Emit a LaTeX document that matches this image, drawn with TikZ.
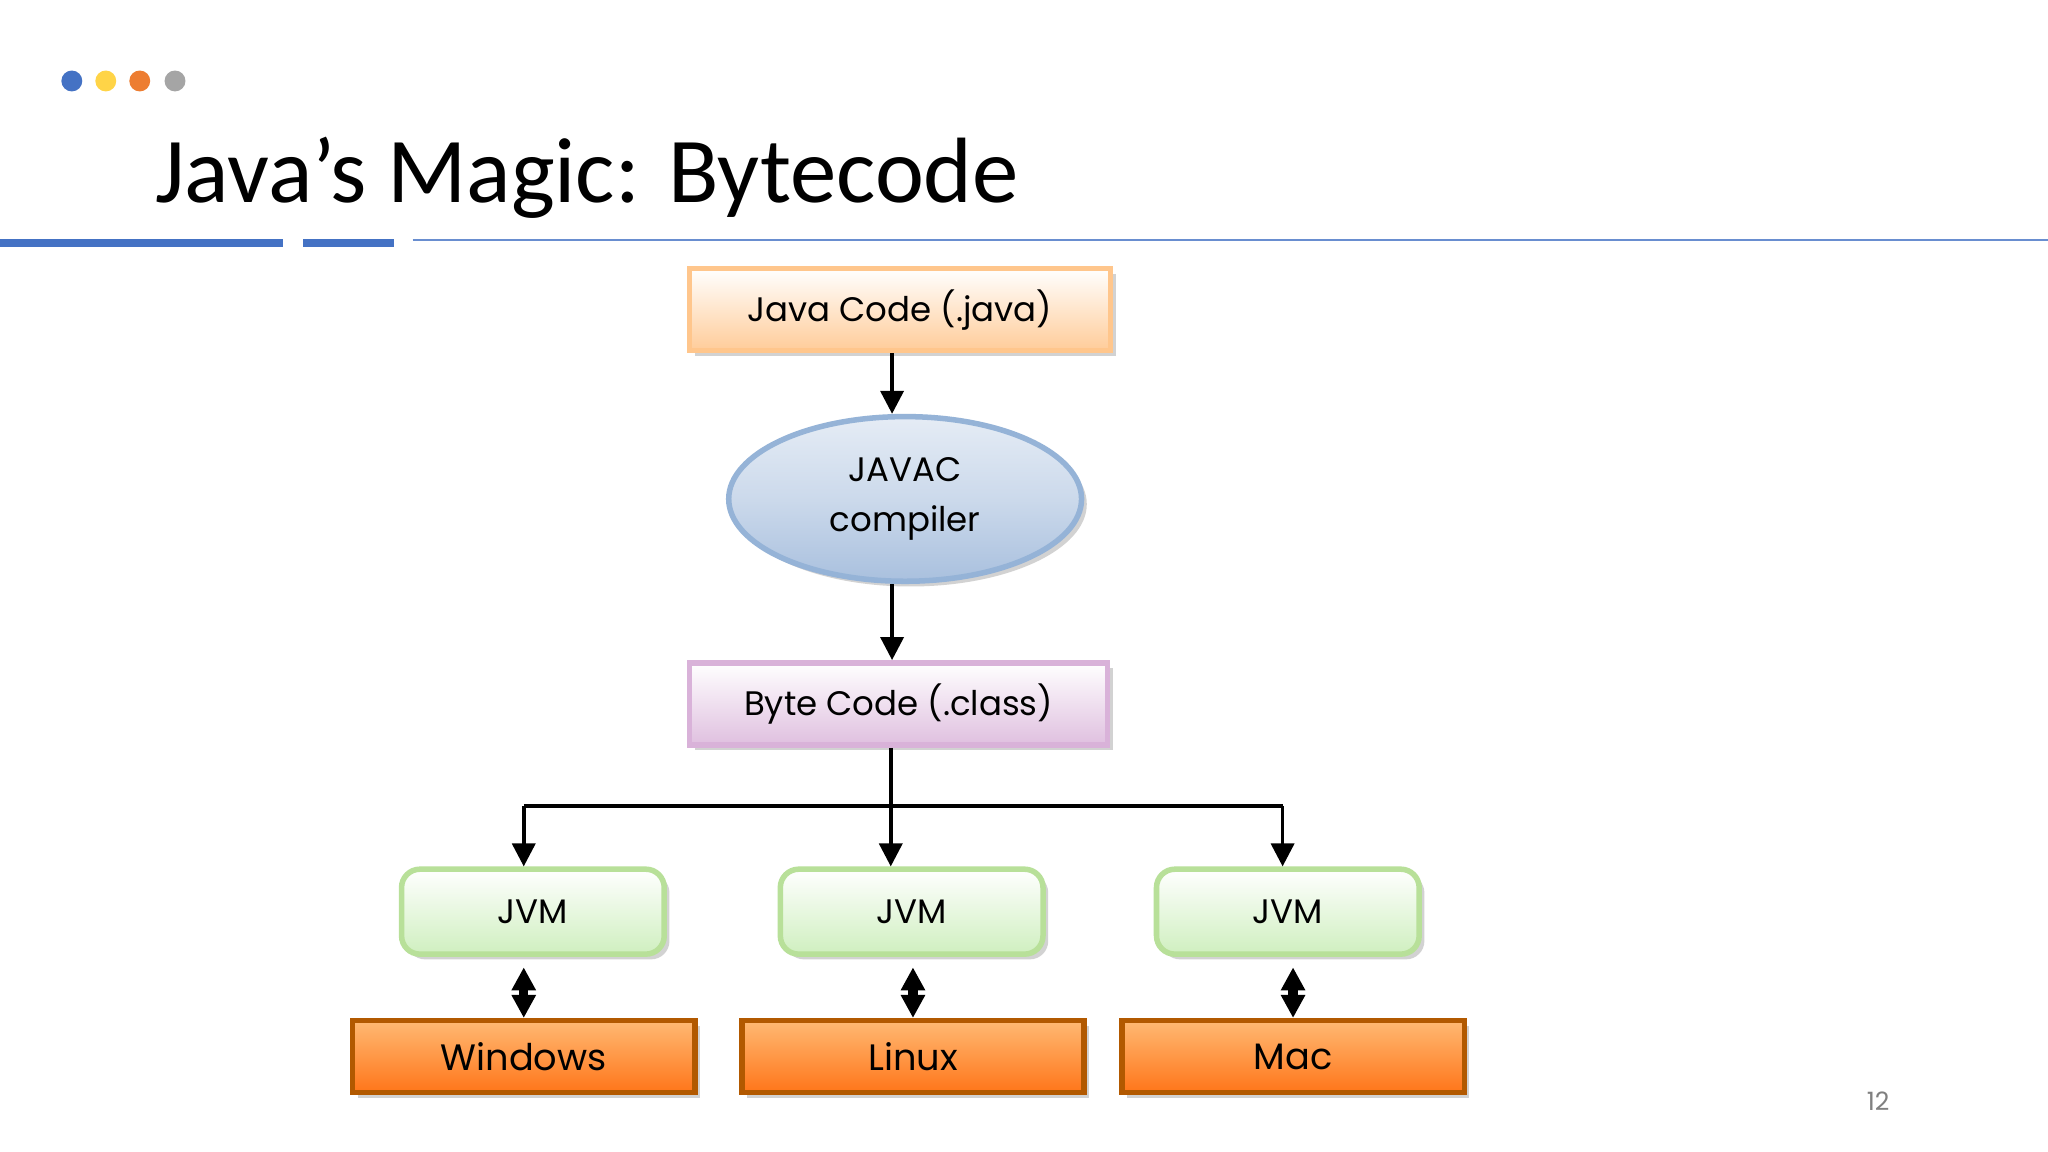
\documentclass[tikz,border=0pt]{standalone}
\usepackage{fontspec}
\setmainfont{Poppins}
\newfontfamily\titlefont{Carlito}
\usetikzlibrary{shapes.geometric,arrows.meta,shadows}
\definecolor{dblue}{HTML}{4472C4}
\definecolor{dyellow}{HTML}{FFD447}
\definecolor{dorange}{HTML}{ED7D31}
\definecolor{dgray}{HTML}{A5A5A5}
\definecolor{ellb}{HTML}{A9C0DE}
\definecolor{elld}{HTML}{95B3D7}
\tikzset{
  P/.style={x=0.01cm,y=-0.01cm},
  box/.style={draw, line width=1.2pt, minimum height=0.63cm, inner sep=0pt, font=\fontsize{7.4}{9}\selectfont, drop shadow={shadow xshift=0.4mm,shadow yshift=-0.4mm,fill=black!35}},
  javab/.style={box, draw=orange!45, top color=white, bottom color=orange!40!white, minimum width=3.22cm},
  byteb/.style={box, draw=violet!30, top color=white, bottom color=violet!25!white, minimum width=3.2cm},
  jvmb/.style={box, rounded corners=4pt, draw=green!40!olive!40, top color=white, bottom color=green!50!olive!25, minimum width=2.01cm, minimum height=0.65cm},
  osb/.style={box, draw=orange!70!black, top color=orange!55, bottom color=orange!80!red!90, minimum width=2.62cm, minimum height=0.55cm, font=\fontsize{8}{9}\selectfont},
  arr/.style={-{Triangle[length=5pt,width=5pt]}, line width=0.8pt},
  darr/.style={{Triangle[length=5pt,width=5pt]}-{Triangle[length=5pt,width=5pt]}, line width=2pt},
}
\begin{document}
\begin{tikzpicture}[P]
\useasboundingbox (0,0) rectangle (1568,882);
\fill[white] (0,0) rectangle (1568,882);
\fill[dblue] (55,62) circle (8);
\fill[dyellow] (81,62) circle (8);
\fill[dorange] (107,62) circle (8);
\fill[dgray] (134,62) circle (8);
\node[anchor=base west, inner sep=0pt, font=\titlefont\fontsize{20.2}{24}\selectfont] (title) at (118,155) {Java’s Magic: Bytecode};
\fill[dblue] (0,183) rectangle (217,189);
\fill[dblue] (232,183) rectangle (302,189);
\draw[dblue!80, line width=0.4pt] (316,184) -- (1568,184);
\node[javab] (java) at (689,237) {Java Code (.java)};
\node[ellipse, draw=elld, line width=1.2pt, top color=white!70!ellb, bottom color=ellb, middle color=ellb!60, minimum width=2.7cm, minimum height=1.26cm, align=center, font=\fontsize{7.4}{11}\selectfont, drop shadow={shadow xshift=0.4mm,shadow yshift=-0.4mm,fill=black!35}] (javac) at (693,382) {JAVAC\\compiler};
\node[byteb] (byte) at (688,539) {Byte Code (.class)};
\node[jvmb] (j1) at (408,698) {JVM};
\node[jvmb] (j2) at (698,698) {JVM};
\node[jvmb] (j3) at (986,698) {JVM};
\node[osb] (w) at (401,809) {Windows};
\node[osb] (l) at (699,809) {Linux};
\node[osb] (m) at (990,809) {Mac};
\node[text=gray, font=\fontsize{5.5}{6}\selectfont] (pg) at (1438,843) {12};
\draw[arr] (java.south -| 683,0) -- (javac.north -| 683,0);
\draw[arr] (javac.south -| 683,0) -- (byte.north -| 683,0);
\coordinate (b0) at (682,617);
\coordinate (bl) at (401,617);
\coordinate (br) at (982,617);
\draw[line width=0.8pt] (byte.south -| 682,0) -- (b0);
\draw[arr] (b0) -- (j2.north -| 682,0);
\draw[arr] (bl) -- (br) (bl) -- (j1.north -| 401,0);
\draw[arr] (br) -- (j3.north -| 982,0);
\draw[darr] ([yshift=-0.08cm]j1.south -| 401,0) -- (w.north -| 401,0);
\draw[darr] ([yshift=-0.08cm]j2.south -| 699,0) -- (l.north -| 699,0);
\draw[darr] ([yshift=-0.08cm]j3.south -| 990,0) -- (m.north -| 990,0);
\end{tikzpicture}
\end{document}
